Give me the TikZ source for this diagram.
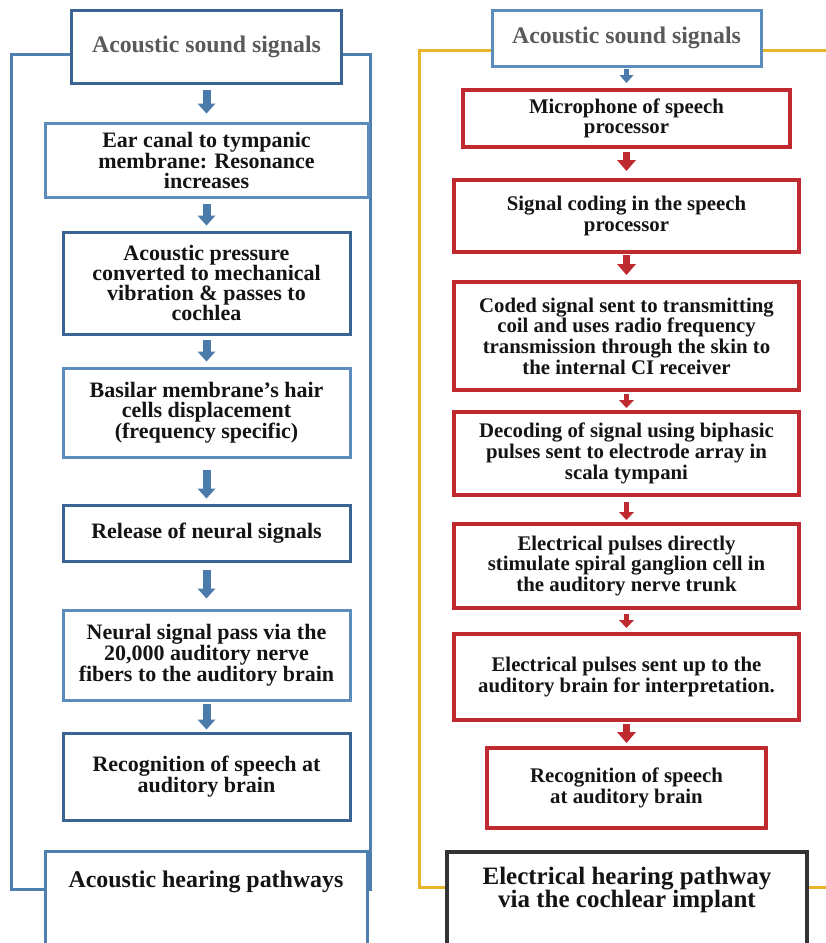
\documentclass[tikz,border=0pt]{standalone}
\usepackage{fontspec}
\setmainfont{Liberation Serif}
\usetikzlibrary{arrows.meta}
\definecolor{bdark}{HTML}{3A6592}
\definecolor{blight}{HTML}{5C8CBC}
\definecolor{bframe}{HTML}{4F7FAF}
\definecolor{barr}{HTML}{4A7BAA}
\definecolor{cred}{HTML}{BF2A30}
\definecolor{cyel}{HTML}{E8B428}
\definecolor{cdark}{HTML}{333333}
\definecolor{tgrey}{HTML}{5A5A5A}
\definecolor{tblack}{HTML}{141414}
\begin{document}
\begin{tikzpicture}[x=1pt,y=-1pt,
  box/.style={draw, fill=white, line width=3pt, align=center, inner sep=0pt, text=tblack},
  lfont/.style={font=\bfseries\fontsize{22}{20}\selectfont},
  rfont/.style={font=\bfseries\fontsize{20.8}{20.7}\selectfont},
  tfont/.style={font=\bfseries\fontsize{23.8}{22}\selectfont, text=tgrey},
  bigarrow/.style={draw=barr, line width=8pt, -{Triangle[width=18pt,length=10pt,line width'=0pt]}},
  smallbluearrow/.style={draw=barr, line width=5pt, -{Triangle[width=14pt,length=8pt,line width'=0pt]}},
  redarrow/.style={draw=cred, line width=7pt, -{Triangle[width=19pt,length=11pt,line width'=0pt]}},
  smallredarrow/.style={draw=cred, line width=5.5pt, -{Triangle[width=15pt,length=8pt,line width'=0pt]}},
  lbox/.style={box, lfont, minimum width=287pt},
  rbox/.style={box, rfont, draw=cred, line width=4pt, minimum width=345pt}
]
\useasboundingbox (0,0) rectangle (826,943);
\clip (0,0) rectangle (826,943);
\fill[white] (0,0) rectangle (826,943);

% frames
\draw[bframe, line width=3pt] (11,54) rectangle (370,889);
\draw[cyel, line width=3pt] (419,50) rectangle (860,887);

% left column
\node[box, tfont, draw=bdark, minimum width=270pt, minimum height=73pt] (ltop) at (206.5,46.5) {Acoustic sound signals};
\node[box, lfont, draw=blight, minimum width=323pt, minimum height=74pt] (l1) at (206.5,160) {Ear canal to tympanic\\membrane: Resonance\\increases};
\node[lbox, draw=bdark, minimum height=102pt] (l2) at (206.5,283) {Acoustic pressure\\converted to mechanical\\vibration \& passes to\\cochlea};
\node[lbox, draw=blight, minimum height=89pt] (l3) at (206.5,412.5) {Basilar membrane’s hair\\cells displacement\\(frequency specific)};
\node[lbox, draw=bdark, minimum height=56pt] (l4) at (206.5,533) {Release of neural signals};
\node[lbox, draw=blight, minimum height=90pt] (l5) at (206.5,655) {Neural signal pass via the\\20,000 auditory nerve\\fibers to the auditory brain};
\node[lbox, draw=bdark, minimum height=87pt] (l6) at (206.5,776.5) {Recognition of speech at\\auditory brain};
\node[box, draw=bframe, minimum width=322pt, minimum height=120pt, anchor=north] (lbot) at (206,850) {};
\node[font=\bfseries\fontsize{23.9}{22}\selectfont, text=tblack] (lbottxt) at (206,882) {Acoustic hearing pathways};

\draw[bigarrow, shorten <=5pt, shorten >=8pt] (ltop) -- (l1);
\draw[bigarrow, shorten <=5pt, shorten >=5pt] (l1) -- (l2);
\draw[bigarrow, shorten <=4pt, shorten >=5pt] (l2) -- (l3);
\draw[bigarrow, shorten <=11pt, shorten >=5pt] (l3) -- (l4);
\draw[bigarrow, shorten <=7pt, shorten >=10pt] (l4) -- (l5);
\draw[bigarrow, shorten <=2pt, shorten >=2pt] (l5) -- (l6);

% right column
\node[box, tfont, draw=blight, minimum width=269pt, minimum height=56pt] (rtop) at (626.5,38) {Acoustic sound signals};
\node[rbox, minimum width=327pt, minimum height=57pt] (r1) at (626.5,118.5) {Microphone of speech\\processor};
\node[rbox, minimum height=72pt] (r2) at (626.5,216) {Signal coding in the speech\\processor};
\node[rbox, minimum height=108pt] (r3) at (626.5,336) {Coded signal sent to transmitting\\coil and uses radio frequency\\transmission through the skin to\\the internal CI receiver};
\node[rbox, minimum height=83pt] (r4) at (626.5,453.5) {Decoding of signal using biphasic\\pulses sent to electrode array in\\scala tympani};
\node[rbox, minimum height=84pt] (r5) at (626.5,566) {Electrical pulses directly\\stimulate spiral ganglion cell in\\the auditory nerve trunk};
\node[rbox, minimum height=86pt] (r6) at (626.5,677) {Electrical pulses sent up to the\\auditory brain for interpretation.};
\node[rbox, minimum width=279pt, minimum height=80pt] (r7) at (626.5,788) {Recognition of speech\\at auditory brain};
\node[box, draw=cdark, line width=3.5pt, minimum width=360pt, minimum height=120pt, anchor=north] (rbot) at (627,850) {};
\node[font=\bfseries\fontsize{25}{22}\selectfont, text=tblack, align=center] (rbottxt) at (627,890) {Electrical hearing pathway\\via the cochlear implant};

\draw[smallbluearrow, shorten <=1pt, shorten >=5pt] (rtop) -- (r1);
\draw[redarrow, shorten <=3pt, shorten >=7pt] (r1) -- (r2);
\draw[redarrow, shorten <=1pt, shorten >=5pt] (r2) -- (r3);
\draw[smallredarrow, shorten <=2pt, shorten >=2pt] (r3) -- (r4);
\draw[smallredarrow, shorten <=5pt, shorten >=2pt] (r4) -- (r5);
\draw[smallredarrow, shorten <=4pt, shorten >=4pt] (r5) -- (r6);
\draw[redarrow, shorten <=2pt, shorten >=3pt] (r6) -- (r7);
\end{tikzpicture}
\end{document}
